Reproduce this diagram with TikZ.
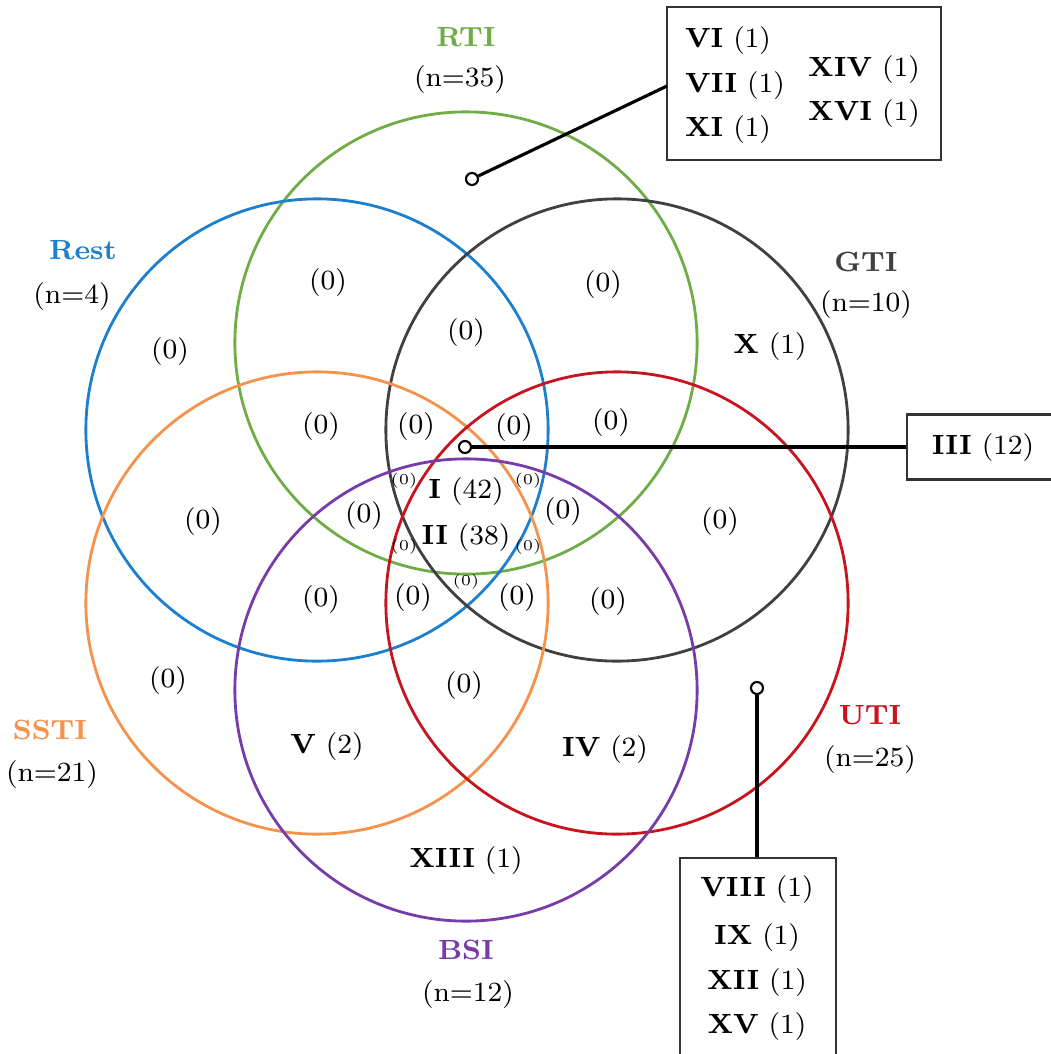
\documentclass[tikz,border=0pt]{standalone}
\usepackage{tikz}
\usetikzlibrary{calc}
\definecolor{rtigreen}{RGB}{112,173,71}
\definecolor{restblue}{RGB}{28,128,206}
\definecolor{gtigray}{RGB}{64,64,64}
\definecolor{sstiorange}{RGB}{245,146,76}
\definecolor{utired}{RGB}{200,20,30}
\definecolor{bsipurple}{RGB}{120,60,170}
\def\cnt#1#2{\textbf{#1} (#2)}

\begin{document}
\begin{tikzpicture}[x=0.01cm, y=-0.01cm,
	lbl/.style={font=\fontsize{7.9}{9}\selectfont},
	tiny/.style={font=\fontsize{4.3}{5}\selectfont},
	setline/.style={line width=0.8pt},
	callbox/.style={draw=black!80, line width=0.6pt, fill=white, inner sep=0pt},
	pin/.style={draw, line width=0.6pt, fill=white, circle, inner sep=0pt, minimum size=0.12cm},
	lead/.style={line width=0.9pt}]
			%%%%% START %%%%%
			\useasboundingbox (0, 0) rectangle (1051, 1054);
			
			% the six sets
			\draw[setline, rtigreen] (466, 343) circle (2.31cm);
			\draw[setline, restblue] (317, 430) circle (2.31cm);
			\draw[setline, gtigray] (617, 430) circle (2.31cm);
			\draw[setline, sstiorange] (317, 603) circle (2.31cm);
			\draw[setline, utired] (617, 603) circle (2.31cm);
			\draw[setline, bsipurple] (466, 690) circle (2.31cm);
			
			% set names
			\node[lbl, text=rtigreen] (rti) at (466, 37) {\textbf{RTI}};
			\node[lbl] (rtin) at (460, 80) {(n=35)};
			\node[lbl, text=restblue] (rest) at (83, 250) {\textbf{Rest}};
			\node[lbl] (restn) at (72, 297) {(n=4)};
			\node[lbl, text=gtigray] (gti) at (866, 262) {\textbf{GTI}};
			\node[lbl] (gtin) at (866, 305) {(n=10)};
			\node[lbl, text=sstiorange] (ssti) at (50, 730) {\textbf{SSTI}};
			\node[lbl] (sstin) at (52, 775) {(n=21)};
			\node[lbl, text=utired] (uti) at (870, 715) {\textbf{UTI}};
			\node[lbl] (utin) at (870, 760) {(n=25)};
			\node[lbl, text=bsipurple] (bsi) at (466, 950) {\textbf{BSI}};
			\node[lbl] (bsin) at (468, 995) {(n=12)};
			
			% region counts
			\node[lbl] (r1) at (328, 283) {(0)};
			\node[lbl] (r2) at (603, 285) {(0)};
			\node[lbl] (r3) at (170, 352) {(0)};
			\node[lbl] (r4) at (466, 333) {(0)};
			\node[lbl] (rx) at (770, 347) {\cnt{X}{1}};
			\node[lbl] (r5) at (321, 427) {(0)};
			\node[lbl] (r6) at (416, 427) {(0)};
			\node[lbl] (r7) at (514, 428) {(0)};
			\node[lbl] (r8) at (611, 423) {(0)};
			\node[lbl] (r9) at (203, 522) {(0)};
			\node[lbl] (r10) at (364, 516) {(0)};
			\node[lbl] (r11) at (563, 512) {(0)};
			\node[lbl] (r12) at (720, 522) {(0)};
			\node[lbl] (ri) at (466, 492) {\cnt{I}{42}};
			\node[lbl] (rii) at (466, 538) {\cnt{II}{38}};
			\node[tiny] (t1) at (404, 481) {(0)};
			\node[tiny] (t2) at (528, 481) {(0)};
			\node[tiny] (t3) at (404, 547) {(0)};
			\node[tiny] (t4) at (528, 547) {(0)};
			\node[tiny] (t5) at (466, 582) {(0)};
			\node[lbl] (r13) at (321, 600) {(0)};
			\node[lbl] (r14) at (413, 598) {(0)};
			\node[lbl] (r15) at (517, 598) {(0)};
			\node[lbl] (r16) at (608, 602) {(0)};
			\node[lbl] (r17) at (168, 681) {(0)};
			\node[lbl] (r18) at (464, 686) {(0)};
			\node[lbl] (rv) at (327, 747) {\cnt{V}{2}};
			\node[lbl] (riv) at (605, 750) {\cnt{IV}{2}};
			\node[lbl] (rxiii) at (466, 861) {\cnt{XIII}{1}};
			
			% callout RTI only
			\node[callbox, minimum width=2.74cm, minimum height=1.53cm] (boxa) at (804, 83.5) {};
			\node[lbl] (vi) at (728, 41) {\cnt{VI}{1}};
			\node[lbl] (vii) at (735, 86) {\cnt{VII}{1}};
			\node[lbl] (xi) at (728, 130) {\cnt{XI}{1}};
			\node[lbl] (xiv) at (864, 70) {\cnt{XIV}{1}};
			\node[lbl] (xvi) at (864, 114) {\cnt{XVI}{1}};
			\coordinate (boxain) at (667, 86);
			\node[pin] (pina) at (472, 179) {};
			\draw[lead] (pina) -- (boxain);
			
			% callout all six
			\node[callbox, minimum width=1.8cm, minimum height=0.65cm] (boxb) at (997, 447) {};
			\node[lbl] (iii) at (983, 448) {\cnt{III}{12}};
			\node[pin] (pinb) at (465, 447) {};
			\draw[lead] (pinb) -- (boxb.west);
			
			% callout UTI only
			\node[callbox, minimum width=1.56cm, minimum height=2.2cm] (boxc) at (758, 968) {};
			\node[lbl] (viii) at (757, 890) {\cnt{VIII}{1}};
			\node[lbl] (ix) at (757, 938) {\cnt{IX}{1}};
			\node[lbl] (xii) at (757, 983) {\cnt{XII}{1}};
			\node[lbl] (xv) at (757, 1027) {\cnt{XV}{1}};
			\node[pin] (pinc) at (757, 688) {};
			\draw[lead] (pinc) -- (pinc |- boxc.north);
			
			%%%%% END %%%%%
		\end{tikzpicture}
\end{document}
